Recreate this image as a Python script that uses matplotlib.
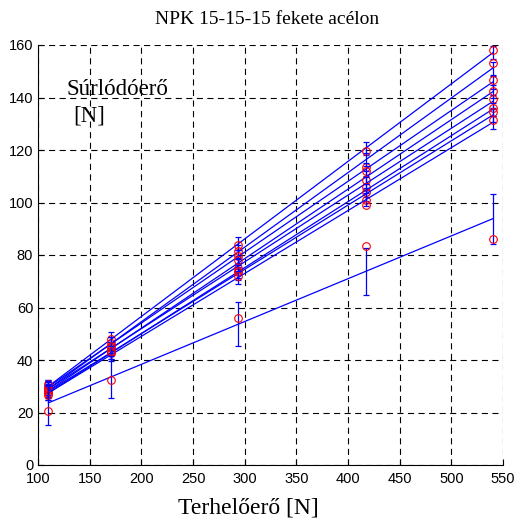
import numpy as np
import matplotlib
matplotlib.use('Agg')
import matplotlib.pyplot as plt

# terhelo ero [N]
terheles = [110, 171, 294, 417, 540]

# surlodo ero meresek (sorozatonkent)
s1 = [30.5, 48.0, 84.0, 119.5, 158.0]
s2 = [29.5, 46.5, 81.5, 113.5, 153.0]
s3 = [31.0, 45.0, 79.5, 112.0, 146.5]
s4 = [28.0, 44.5, 78.0, 108.5, 142.5]
s5 = [29.0, 45.5, 75.0, 106.0, 139.5]
s6 = [27.5, 43.0, 73.5, 104.0, 136.0]
s7 = [28.5, 42.5, 74.0, 101.0, 134.5]
s8 = [26.5, 43.5, 72.0, 99.0, 131.5]
s9 = [20.5, 32.5, 56.0, 83.5, 86.0]

# hibak (fel-szelesseg)
h_kicsi = [2.5, 2.5, 2.5, 2.5, 2.5]
h_nagy = [8.5, 8.0, 8.3, 8.8, 9.5]

sorozatok = [s1, s2, s3, s4, s5, s6, s7, s8, s9]
hibak = [h_kicsi]*8 + [h_nagy]

fig = plt.figure(figsize=(5.17, 5.23), dpi=100)
ax = fig.add_axes([38/517., 58/523., 465/517., 420/523.])

x = np.array(terheles)
for y, h in zip(sorozatok, hibak):
	p = np.polyfit(x, y, 1)
	yfit = np.polyval(p, x)
	ax.plot(x, yfit, color='b', lw=0.9)
	ax.errorbar(x, yfit, yerr=h, fmt='none', ecolor='b', elinewidth=0.9, capsize=2.5, capthick=0.9)
	ax.plot(x, y, 'o', ms=5.5, mfc='none', mec='r', mew=0.8)

ax.set_xlim(100, 550)
ax.set_ylim(0, 160)
ax.set_xticks(range(100, 551, 50))
ax.set_yticks(range(0, 161, 20))
ax.grid(True, color='k', ls=(0, (5.5, 4)), lw=0.8)
ax.spines['top'].set_visible(False)
ax.spines['right'].set_visible(False)
ax.tick_params(direction='in', labelsize=10.5, length=4)
ax.tick_params(axis='x', pad=5)
for t in ax.get_xticklabels() + ax.get_yticklabels():
	t.set_family('Liberation Sans')

fig.text(267/517., 1-20/523., "NPK 15-15-15 fekete acélon", family='Liberation Serif', fontsize=14, ha='center', va='center')
ax.text(128, 140.8, "Súrlódóerő", family='Liberation Serif', fontsize=16.5)
ax.text(134, 130.8, "[N]", family='Liberation Serif', fontsize=16.5, va='baseline')
fig.text(248/517., 1-508/523., "Terhelőerő [N]", family='Liberation Serif', fontsize=17, ha='center', va='center')

fig.savefig('out.png', dpi=100)
